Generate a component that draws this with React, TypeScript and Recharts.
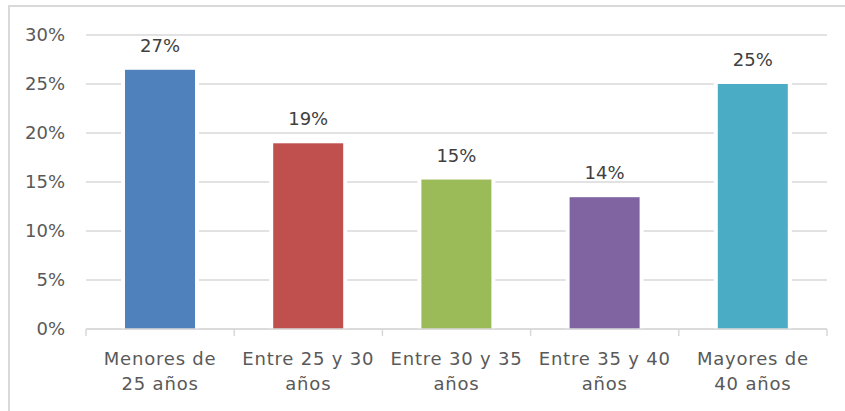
import React from 'react'
import { BarChart, Bar, XAxis, YAxis, CartesianGrid, Cell, LabelList } from 'recharts'

const categories = ['Menores de\n25 años', 'Entre 25 y 30\naños', 'Entre 30 y 35\naños', 'Entre 35 y 40\naños', 'Mayores de\n40 años']
const shares = [26.45, 18.95, 15.25, 13.45, 25.0]
const shareLabels = ['27%', '19%', '15%', '14%', '25%']
const colors = ['#4F81BD', '#C0504D', '#9BBB59', '#8064A2', '#4BACC6']
const yTicks = [0, 5, 10, 15, 20, 25, 30]

const data = categories.map((name, i) => ({ name, value: shares[i], label: shareLabels[i] }))

const FONT = '"Century Gothic", "DejaVu Sans", sans-serif'
const GRID = '#d9d9d9'

// Excel leaves a small white halo round each bar, which cuts the gridlines
function HaloBar(props: any) {
  const { x, y, width, height, index } = props
  return (
    <g>
      <rect x={x - 4} y={y - 4} width={width + 8} height={height + 4} fill="#ffffff" />
      <rect x={x} y={y} width={width} height={height} fill={colors[index]} />
    </g>
  )
}

// two-line category label plus the tick marks on the category boundaries
function CategoryTick(props: any) {
  const { x, y, payload, index, visibleTicksCount } = props
  const half = payload.offset || 74
  const lines = String(payload.value).split('\n')
  const last = index === visibleTicksCount - 1
  return (
    <g>
      <line x1={x - half} x2={x - half} y1={y - 8} y2={y - 1} stroke={GRID} strokeWidth={1.5} />
      {last && <line x1={x + half} x2={x + half} y1={y - 8} y2={y - 1} stroke={GRID} strokeWidth={1.5} />}
      <text x={x} y={y} textAnchor="middle" fill="#595959" fontSize={18} fontFamily={FONT} letterSpacing={0.8}>
        {lines.map((l, i) => (
          <tspan key={i} x={x} dy={i === 0 ? 28 : 25}>{l}</tspan>
        ))}
      </text>
    </g>
  )
}

export default function App() {
  return (
    <div style={{ position: 'absolute', left: 0, top: 0, width: 845, height: 411, background: '#fff' }}>
      <div
        style={{
          position: 'absolute',
          left: 8,
          top: 5,
          width: 845,
          height: 420,
          borderTop: '2px solid #d9d9d9',
          borderLeft: '2px solid #d9d9d9',
        }}
      />
      <BarChart
        width={845}
        height={411}
        data={data}
        margin={{ top: 35, right: 18, left: 0, bottom: 0 }}
        style={{ position: 'absolute', left: 0, top: 0, fontFamily: FONT }}
      >
        <CartesianGrid vertical={false} stroke={GRID} strokeWidth={1.5} />
        <XAxis
          dataKey="name"
          height={82}
          interval={0}
          axisLine={{ stroke: GRID, strokeWidth: 1.5 }}
          tickLine={false}
          tickSize={0}
          tickMargin={8}
          tick={<CategoryTick />}
        />
        <YAxis
          domain={[0, 30]}
          ticks={yTicks}
          width={86}
          axisLine={false}
          tickLine={false}
          tickSize={0}
          tickMargin={21}
          tickFormatter={(v: number) => `${v}%`}
          tick={{ fill: '#595959', fontSize: 18, fontFamily: FONT }}
        />
        <Bar dataKey="value" barSize={70} shape={<HaloBar />} isAnimationActive={false}>
          {data.map((d, i) => (
            <Cell key={d.name} fill={colors[i]} />
          ))}
          <LabelList dataKey="label" position="top" offset={18} fill="#404040" fontSize={18} fontFamily={FONT} />
        </Bar>
      </BarChart>
    </div>
  )
}
